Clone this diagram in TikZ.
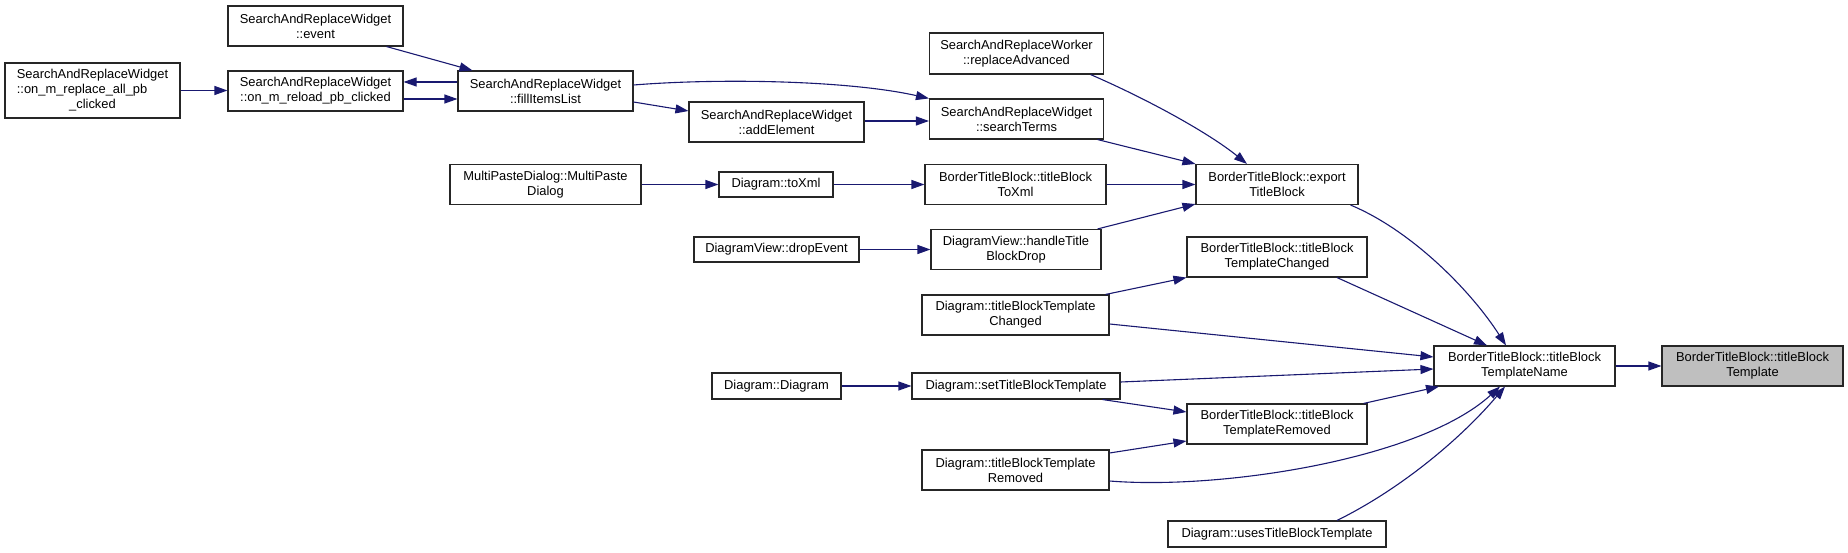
\documentclass[tikz,border=0pt]{standalone}
\usepackage{fontspec}
\setmainfont{Liberation Sans}
\usetikzlibrary{arrows.meta}
\definecolor{edgeblue}{HTML}{191970}
\definecolor{boxgray}{HTML}{BFBFBF}
\tikzset{
  box/.style={draw=black!85, line width=1.1pt, fill=white, inner sep=0pt, align=center,
    font=\fontsize{12.9}{15}\selectfont},
  hl/.style={box, fill=boxgray},
  call/.style={draw=edgeblue, line width=1.1pt, -{Triangle[length=13pt,width=9pt]}, edgeblue},
}
\begin{document}
\begin{tikzpicture}[x=1pt,y=-1pt]
\useasboundingbox (0,0) rectangle (1848,553);
% nodes
\node[box, minimum width=175pt, minimum height=40pt] (ev) at (315.5,26) {SearchAndReplaceWidget\\::event};
\node[box, minimum width=175pt, minimum height=55pt] (ra) at (92.5,90.5) {SearchAndReplaceWidget\\\rlap{::on\_m\_replace\_all\_pb}\phantom{SearchAndReplaceWidget}\\\_clicked};
\node[box, minimum width=175pt, minimum height=40pt] (rl) at (315.5,91) {SearchAndReplaceWidget\\::on\_m\_reload\_pb\_clicked};
\node[box, minimum width=175pt, minimum height=40pt] (fi) at (545.5,91) {SearchAndReplaceWidget\\::fillItemsList};
\node[box, minimum width=191pt, minimum height=40pt] (mp) at (545.5,184.5) {MultiPasteDialog::MultiPaste\\Dialog};
\node[box, minimum width=174pt, minimum height=41pt] (adv) at (1016.5,53.5) {SearchAndReplaceWorker\\::replaceAdvanced};
\node[box, minimum width=174pt, minimum height=40pt] (st) at (1016.5,119) {SearchAndReplaceWidget\\::searchTerms};
\node[box, minimum width=175pt, minimum height=40pt] (ae) at (776.5,122) {SearchAndReplaceWidget\\::addElement};
\node[box, minimum width=114pt, minimum height=25pt] (tx) at (776,184.5) {Diagram::toXml};
\node[box, minimum width=181pt, minimum height=40pt] (btx) at (1015.5,184.5) {BorderTitleBlock::titleBlock\\ToXml};
\node[box, minimum width=162pt, minimum height=40pt] (ex) at (1277,184.5) {BorderTitleBlock::export\\TitleBlock};
\node[box, minimum width=165pt, minimum height=25pt] (de) at (776.5,249.5) {DiagramView::dropEvent};
\node[box, minimum width=170pt, minimum height=40pt] (hd) at (1016,249.5) {DiagramView::handleTitle\\BlockDrop};
\node[box, minimum width=180pt, minimum height=40pt] (btc) at (1277,257) {BorderTitleBlock::titleBlock\\TemplateChanged};
\node[box, minimum width=187pt, minimum height=40pt] (dtc) at (1015.5,315) {Diagram::titleBlockTemplate\\Changed};
\node[box, minimum width=181pt, minimum height=40pt] (tn) at (1524.5,366) {BorderTitleBlock::titleBlock\\TemplateName};
\node[hl, minimum width=181pt, minimum height=40pt] (tp) at (1752.5,366) {BorderTitleBlock::titleBlock\\Template};
\node[box, minimum width=129pt, minimum height=26pt] (dd) at (776.5,386) {Diagram::Diagram};
\node[box, minimum width=208pt, minimum height=26pt] (sb) at (1016,386) {Diagram::setTitleBlockTemplate};
\node[box, minimum width=180pt, minimum height=40pt] (btr) at (1277,424) {BorderTitleBlock::titleBlock\\TemplateRemoved};
\node[box, minimum width=187pt, minimum height=40pt] (dtr) at (1015.5,470) {Diagram::titleBlockTemplate\\Removed};
\node[box, minimum width=218pt, minimum height=26pt] (us) at (1277,534) {Diagram::usesTitleBlockTemplate};
% edges
\draw[call] (ra.east) -- (ra.east -| rl.west);
\draw[call] ([yshift=9pt]fi.west) -- ([yshift=9pt]fi.west -| rl.east);
\draw[call] ([yshift=-8pt]rl.east) -- ([yshift=-8pt]rl.east -| fi.west);
\draw[call] ([xshift=71pt]ev.south) -- ([xshift=-73pt]fi.north);
\draw[call] ([yshift=6pt]fi.east) .. controls +(87,-7) and +(-80,-18) .. (st.north west);
\draw[call] ([yshift=-11pt]fi.east) -- ([yshift=11pt]ae.west);
\draw[call] ([yshift=1pt]ae.east) -- ([yshift=1pt]ae.east -| st.west);
\draw[call] ([xshift=-13.5pt]adv.south east) .. controls +(60,26) and +(-37,-30) .. ([xshift=-30pt]ex.north);
\draw[call] ([xshift=-6.5pt]st.south east) -- (ex.north west);
\draw[call] (mp.east) -- (tx.west);
\draw[call] (tx.east) -- (btx.west);
\draw[call] (btx.east) -- (ex.west);
\draw[call] (de.east) -- (hd.west);
\draw[call] ([xshift=-4pt]hd.north east) -- ([yshift=1pt]ex.south west);
\draw[call] ([xshift=-8pt]ex.south east) .. controls +(60,25) and +(-36,-56) .. ([xshift=-18.5pt]tn.north);
\draw[call] ([xshift=60pt]btc.south) -- ([xshift=-37.5pt]tn.north);
\draw[call] ([yshift=-9pt]dtc.east) -- ([yshift=9pt]tn.west);
\draw[call] ([xshift=-4pt]dtc.north east) -- (btc.south west);
\draw[call] (dd.east) -- (sb.west);
\draw[call] ([yshift=4pt]sb.east) -- ([yshift=-3pt]tn.west);
\draw[call] ([xshift=-18pt]sb.south east) -- ([yshift=12pt]btr.west);
\draw[call] ([yshift=17pt]dtr.east) -- ([yshift=-17pt]btr.west);
\draw[call] ([xshift=-4pt]btr.north east) -- ([xshift=5.5pt]tn.south west);
\draw[call] ([yshift=-11pt]dtr.east) .. controls +(111,9) and +(-80,73) .. ([xshift=-24.5pt]tn.south);
\draw[call] ([xshift=60pt]us.north) .. controls +(63,-31) and +(-45,53) .. ([xshift=-19.5pt]tn.south);
\draw[call] (tn.east) -- (tp.west);
\end{tikzpicture}
\end{document}
